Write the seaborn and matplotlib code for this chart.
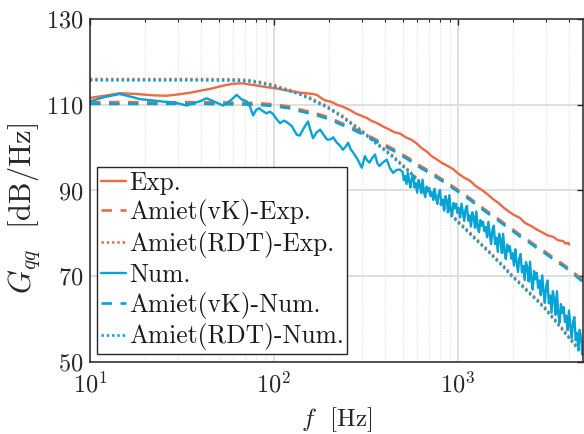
import numpy as np
import pandas as pd
import matplotlib
matplotlib.use("Agg")
import matplotlib.pyplot as plt
import seaborn as sns
from matplotlib.ticker import LogLocator, FixedLocator, NullFormatter

# ---------------- data ----------------
exp_f = [10, 12, 14.5, 18, 22, 26, 30, 35, 40, 45, 50, 55, 60, 68, 74, 80, 88, 95, 103, 112,
         120, 130, 140, 150, 163, 171, 180, 190, 200, 209, 220, 235, 258, 280, 300, 320, 340,
         360, 393, 420, 450, 483, 520, 560, 595, 630, 680, 720, 770, 820, 880, 940, 1000,
         1080, 1160, 1250, 1340, 1440, 1550, 1660, 1770, 1900, 2030, 2170, 2320, 2480, 2680,
         2880, 3080, 3290, 3500, 3730, 3850, 3970, 4020]
exp_v = [111.6, 112.1, 112.7, 112.5, 112.2, 112.1, 112.4, 112.8, 113.3, 113.7, 114.2, 114.6,
         114.9, 115.0, 114.7, 114.5, 114.2, 114.0, 113.8, 113.5, 113.3, 113.0, 112.8, 112.7,
         112.5, 112.3, 111.6, 111.0, 110.8, 110.5, 110.0, 109.6, 108.8, 107.9, 107.4, 106.9,
         106.2, 105.8, 104.9, 104.3, 103.6, 103.3, 102.4, 101.8, 101.0, 100.0, 99.0, 98.0,
         97.2, 96.4, 95.7, 95.0, 94.0, 93.0, 92.3, 91.0, 90.2, 89.2, 88.0, 87.1, 86.0, 85.0,
         84.2, 83.6, 82.4, 81.8, 80.9, 80.2, 79.5, 79.2, 78.4, 78.2, 77.6, 77.8, 77.4]

vk_f = [10, 20, 40, 60, 80, 100, 120, 138, 160, 178, 200, 228, 260, 293, 340, 390, 444, 500,
        570, 620, 680, 760, 850, 950, 1050, 1170, 1290, 1450, 1630, 1800, 1990, 2200, 2450,
        2700, 3030, 3350, 3730, 4150, 4580, 4800]
vk_exp_v = [110.6, 110.6, 110.6, 110.5, 110.4, 110.1, 109.6, 108.9, 108.3, 107.7, 107.0,
            105.9, 104.9, 103.8, 102.4, 101.0, 99.7, 98.4, 96.9, 95.8, 94.8, 93.5, 92.2, 90.8,
            89.5, 88.1, 86.7, 85.1, 83.6, 82.2, 80.9, 79.5, 78.2, 76.9, 75.5, 74.1, 72.8,
            71.3, 69.7, 69.1]
vk_num_v = [110.2, 110.2, 110.2, 110.1, 110.0, 109.7, 109.2, 108.5, 107.9, 107.3, 106.6,
            105.5, 104.5, 103.4, 102.0, 100.6, 99.3, 98.0, 96.5, 95.4, 94.4, 93.1, 91.8, 90.4,
            89.1, 87.7, 86.3, 84.7, 83.2, 81.8, 80.5, 79.1, 77.8, 76.5, 75.1, 73.7, 72.4,
            70.9, 69.3, 68.7]

rdt_f = [10, 20, 40, 55, 65, 74, 85, 100, 112, 125, 138, 155, 171, 190, 209, 232, 258, 288,
         320, 355, 393, 440, 483, 540, 595, 680, 770, 850, 940, 1050, 1160, 1300, 1440, 1600,
         1770, 1950, 2170, 2400, 2680, 2980, 3290, 3650, 4040, 4400, 4800]
rdt_exp_v = [116.0, 116.0, 116.0, 115.95, 115.9, 115.7, 115.3, 114.6, 113.9, 113.3, 112.7,
             111.8, 110.8, 109.9, 108.8, 107.6, 106.1, 104.6, 103.0, 101.4, 99.9, 98.2, 96.6,
             94.7, 92.9, 90.3, 88.0, 86.0, 84.0, 82.0, 80.2, 78.1, 76.3, 74.3, 72.4, 70.4,
             68.5, 66.6, 64.7, 62.6, 60.4, 58.1, 55.7, 53.8, 52.0]
rdt_num_v = [115.7, 115.7, 115.7, 115.65, 115.6, 115.4, 115.0, 114.3, 113.6, 113.0, 112.4,
             111.5, 110.5, 109.6, 108.5, 107.3, 105.8, 104.3, 102.7, 101.1, 99.6, 97.9, 96.3,
             94.4, 92.6, 90.0, 87.7, 85.7, 83.7, 81.7, 79.9, 77.8, 76.0, 74.0, 72.1, 70.1,
             68.2, 66.3, 64.4, 62.3, 60.1, 57.8, 55.4, 53.5, 51.7]

# numerical spectrum, low-frequency part
num_lf_f = [10, 12, 14.5, 17, 18.7, 22, 24, 27, 29.6, 33.6, 36, 39.6, 43, 47, 53, 58, 62.7,
            67, 71, 74, 77, 80, 83, 87, 91, 95, 99, 104, 108, 113, 117, 125, 133, 138, 145,
            153, 158, 163, 170, 178, 186, 194, 202, 210, 219, 228, 237, 245, 253, 262, 270,
            285, 300, 312, 321, 330, 342, 354, 364, 374, 390, 410, 427, 444, 463, 483]
num_lf_v = [110.8, 111.8, 112.5, 111.8, 111.3, 111.0, 110.8, 110.6, 110.4, 109.8, 110.3,
            110.8, 111.5, 110.8, 109.8, 111.0, 112.3, 111.2, 110.8, 109.6, 107.5, 108.8,
            109.2, 108.5, 108.0, 108.4, 107.8, 106.5, 105.7, 106.3, 106.0, 105.0, 103.0,
            102.8, 104.5, 106.1, 104.0, 102.2, 103.5, 104.2, 103.0, 101.9, 101.9, 102.4,
            101.2, 100.5, 99.5, 100.2, 101.1, 99.5, 98.8, 97.2, 95.3, 98.0, 97.0, 96.5, 97.6,
            98.4, 96.4, 95.7, 96.5, 97.2, 95.2, 94.1, 94.8, 94.9]
# numerical spectrum, high-frequency part (frequency, level)
num_hf = [(500, 94.3), (508, 92.4), (516, 93.4), (525, 91.5), (534, 94.1), (543, 92.2),
          (552, 90.7), (561, 92.9), (571, 93.6), (580, 90.7), (590, 91.7), (600, 89.5),
          (610, 92.3), (620, 91.5), (631, 89.4), (642, 92.5), (653, 89.6), (664, 88.5),
          (675, 90.9), (686, 89.8), (698, 90.6), (710, 88.7), (722, 89.6), (734, 87.8),
          (746, 90.4), (759, 88.5), (772, 86.9), (785, 89.1), (798, 90.1), (812, 86.7),
          (826, 87.9), (840, 85.3), (854, 88.7), (868, 87.7), (883, 85.1), (898, 88.9),
          (913, 85.4), (929, 84.2), (945, 87.1), (961, 85.8), (977, 86.9), (993, 84.8),
          (1010, 85.9), (1027, 83.7), (1045, 86.9), (1063, 84.8), (1081, 82.9), (1099, 85.6),
          (1118, 86.4), (1137, 83.0), (1156, 84.2), (1176, 81.6), (1196, 84.9), (1216, 83.9),
          (1237, 81.3), (1258, 85.1), (1279, 81.5), (1301, 80.3), (1323, 83.1), (1345, 81.8),
          (1368, 82.7), (1391, 80.5), (1415, 81.5), (1439, 79.1), (1463, 82.7), (1488, 79.9),
          (1513, 77.5), (1539, 80.8), (1565, 81.8), (1591, 77.5), (1618, 79.0), (1646, 75.7),
          (1674, 79.9), (1702, 78.6), (1731, 75.4), (1760, 79.9), (1790, 75.6), (1820, 74.0),
          (1851, 77.4), (1883, 75.8), (1915, 77.0), (1947, 74.1), (1980, 75.4), (2014, 72.5),
          (2048, 76.3), (2082, 73.4), (2118, 71.0), (2154, 74.2), (2190, 75.2), (2227, 70.9),
          (2265, 72.4), (2303, 69.1), (2342, 73.3), (2382, 72.0), (2422, 68.8), (2463, 73.4),
          (2505, 69.1), (2548, 66.9), (2591, 71.2), (2635, 69.3), (2679, 70.8), (2725, 67.3),
          (2771, 69.0), (2818, 65.6), (2866, 70.2), (2914, 66.7), (2964, 63.8), (3014, 67.7),
          (3065, 69.0), (3117, 63.7), (3170, 65.5), (3224, 61.5), (3278, 66.5), (3334, 64.8),
          (3390, 61.0), (3448, 66.5), (3506, 61.3), (3566, 59.2), (3626, 63.5), (3688, 61.4),
          (3750, 62.8), (3814, 59.3), (3878, 60.8), (3944, 57.4), (4011, 62.0), (4079, 58.5),
          (4148, 55.5), (4219, 59.3), (4290, 60.5), (4363, 55.1), (4437, 56.8), (4512, 52.7),
          (4588, 57.5), (4666, 55.7), (4745, 51.7), (4800, 54.8)]

labels = ["Exp.", "Amiet(vK)-Exp.", "Amiet(RDT)-Exp.",
          "Num.", "Amiet(vK)-Num.", "Amiet(RDT)-Num."]
y_ticks = [50, 70, 90, 110, 130]

num_f = num_lf_f + [p[0] for p in num_hf]
num_v = num_lf_v + [p[1] for p in num_hf]

# ---------------- style ----------------
sns.set_theme(style="white")
plt.rcParams["font.family"] = ["cmr10", "DejaVu Serif"]
plt.rcParams["mathtext.fontset"] = "cm"
plt.rcParams["axes.formatter.use_mathtext"] = True
plt.rcParams["axes.unicode_minus"] = False

ORANGE = "#EC6A45"
BLUE = "#06A3D5"
FS = 17.5
LFS = 18.3

fig = plt.figure(figsize=(5.84, 4.34), dpi=100)
ax = fig.add_axes([90 / 584, 1 - 362 / 434, 493 / 584, 343 / 434])

series = [
    (exp_f, exp_v, ORANGE, "-", 1.7),
    (vk_f, vk_exp_v, ORANGE, (0, (4, 3.2)), 1.9),
    (rdt_f, rdt_exp_v, ORANGE, (0, (0.9, 1.1)), 1.9),
    (num_f, num_v, BLUE, "-", 1.7),
    (vk_f, vk_num_v, BLUE, (0, (4, 3.2)), 1.9),
    (rdt_f, rdt_num_v, BLUE, (0, (0.9, 1.1)), 1.9),
]
for (fx, fy, col, ls, lw), lab in zip(series, labels):
    sns.lineplot(x=fx, y=fy, ax=ax, color=col, linestyle=ls, linewidth=lw,
                 label=lab, sort=False, estimator=None)

ax.set_xscale("log")
ax.set_xlim(10, 4780)
ax.set_ylim(50, 130)
ax.yaxis.set_major_locator(FixedLocator(y_ticks))
ax.xaxis.set_major_locator(LogLocator(base=10, numticks=10))
ax.xaxis.set_minor_locator(LogLocator(base=10, subs=np.arange(2, 10), numticks=20))
ax.xaxis.set_minor_formatter(NullFormatter())

ax.grid(True, which="major", color="#dcdcdc", linewidth=1.3, linestyle="-")
ax.grid(True, which="minor", axis="x", color="#dcdcdc", linewidth=0.8, linestyle=(0, (1, 1.5)))
ax.set_axisbelow(True)

for sp in ax.spines.values():
    sp.set_visible(True)
    sp.set_color("#262626")
    sp.set_linewidth(1.1)

ax.tick_params(which="major", direction="in", length=4, width=1.0, color="#262626",
               top=True, right=True, labelsize=FS, labelcolor="#262626", pad=5)
ax.tick_params(axis="x", which="major", pad=7)
ax.tick_params(which="minor", direction="in", length=2.2, width=0.8, color="#262626",
               top=True, right=True)

ax.set_xlabel(r"$f$  [Hz]", fontsize=18, color="#262626", labelpad=6)
ax.set_ylabel(r"$G_{qq}$  [dB/Hz]", fontsize=22, color="#262626")
ax.yaxis.set_label_coords(-0.097, 0.449)

leg = ax.legend(loc="upper left", bbox_to_anchor=(0.0142, 0.5685), borderaxespad=0,
                fontsize=LFS, frameon=True, fancybox=False, framealpha=1,
                edgecolor="#262626", handlelength=1.0, handletextpad=0.1,
                labelspacing=0.19, borderpad=0.15)
leg.get_frame().set_linewidth(1.0)
for t in leg.get_texts():
    t.set_color("#1a1a1a")

fig.savefig("out.png", dpi=100)
